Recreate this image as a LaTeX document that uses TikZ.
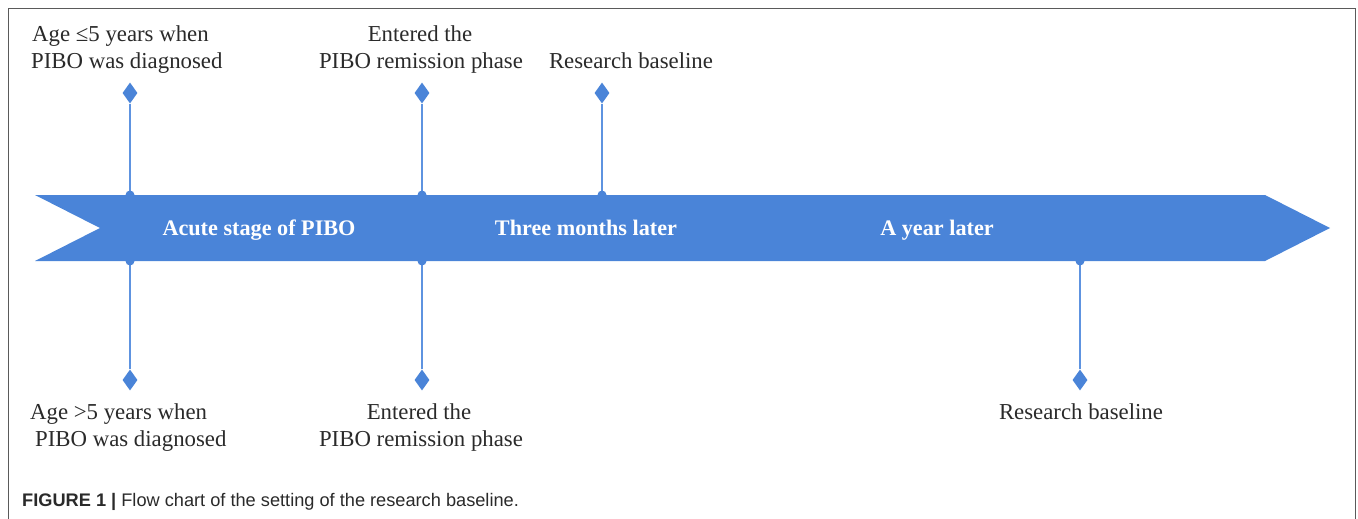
\documentclass[tikz,border=0pt]{standalone}
\usepackage{fontspec}
\setmainfont{Liberation Serif}
\newfontfamily\capfont{Liberation Sans}
\usetikzlibrary{shapes.geometric}
\definecolor{ribbon}{HTML}{4A84D8}
\definecolor{stemc}{HTML}{5E93E0}
\definecolor{txt}{HTML}{2A2A2A}
\definecolor{framec}{HTML}{5A5A5A}
\tikzset{
  lbl/.style={font=\fontsize{22.8}{27}\selectfont, text=txt, inner sep=0pt, align=center},
  band/.style={font=\bfseries\fontsize{22.2}{24}\selectfont, text=white, inner sep=0pt},
  tip/.style={shape=diamond, fill=ribbon, draw=none, minimum width=15pt, minimum height=21pt, inner sep=0pt},
  stem/.style={draw=stemc, line width=2pt},
  dot/.style={fill=ribbon, circle, inner sep=0pt, minimum size=9pt}
}
\begin{document}
\begin{tikzpicture}[x=1pt,y=-1pt]
\useasboundingbox (0,0) rectangle (1358,519);
% frame
\draw[framec, line width=1.5pt] (8.5,519) -- (8.5,8.5) -- (1355.5,8.5) -- (1355.5,519);
% ribbon
\fill[ribbon] (35,195) -- (1265,195) -- (1330,228) -- (1265,261) -- (35,261) -- (100,228) -- cycle;
% junction coordinates
\coordinate (t1) at (130,195);
\coordinate (t2) at (422,195);
\coordinate (t3) at (602,195);
\coordinate (b1) at (130,261);
\coordinate (b2) at (422,261);
\coordinate (b3) at (1080,261);
% diamonds
\node[tip] (d1) at (130,93) {};
\node[tip] (d2) at (422,93) {};
\node[tip] (d3) at (602,93) {};
\node[tip] (e1) at (130,380) {};
\node[tip] (e2) at (422,380) {};
\node[tip] (e3) at (1080,380) {};
% stems
\draw[stem] (d1) -- (t1);
\draw[stem] (d2) -- (t2);
\draw[stem] (d3) -- (t3);
\draw[stem] (e1) -- (b1);
\draw[stem] (e2) -- (b2);
\draw[stem] (e3) -- (b3);
\foreach \p in {t1,t2,t3,b1,b2,b3} \node[dot] at (\p) {};
% ribbon labels
\node[band, anchor=base] (s1) at (259,235) {Acute stage of PIBO};
\node[band, anchor=base] (s2) at (586,235) {Three months later};
\node[band, anchor=base] (s3) at (937,235) {A year later};
% top labels
\node[lbl, anchor=base west] (a1) at (32,42) {Age ≤5 years when};
\node[lbl, anchor=base west] (a2) at (31,69) {PIBO was diagnosed};
\node[lbl, anchor=base] (a3) at (420,42) {Entered the};
\node[lbl, anchor=base] (a4) at (421,69) {PIBO remission phase};
\node[lbl, anchor=base] (a5) at (631,69) {Research baseline};
% bottom labels
\node[lbl, anchor=base west] (c1) at (30,419) {Age >5 years when};
\node[lbl, anchor=base west] (c2) at (35,446) {PIBO was diagnosed};
\node[lbl, anchor=base] (c3) at (419,419) {Entered the};
\node[lbl, anchor=base] (c4) at (421,446) {PIBO remission phase};
\node[lbl, anchor=base] (c5) at (1081,419) {Research baseline};
% caption
\node[anchor=base west, inner sep=0pt, text=txt, font=\capfont\fontsize{18.2}{22}\selectfont] (cap) at (22,506) {\textbf{FIGURE 1 |} Flow chart of the setting of the research baseline.};
\end{tikzpicture}
\end{document}
